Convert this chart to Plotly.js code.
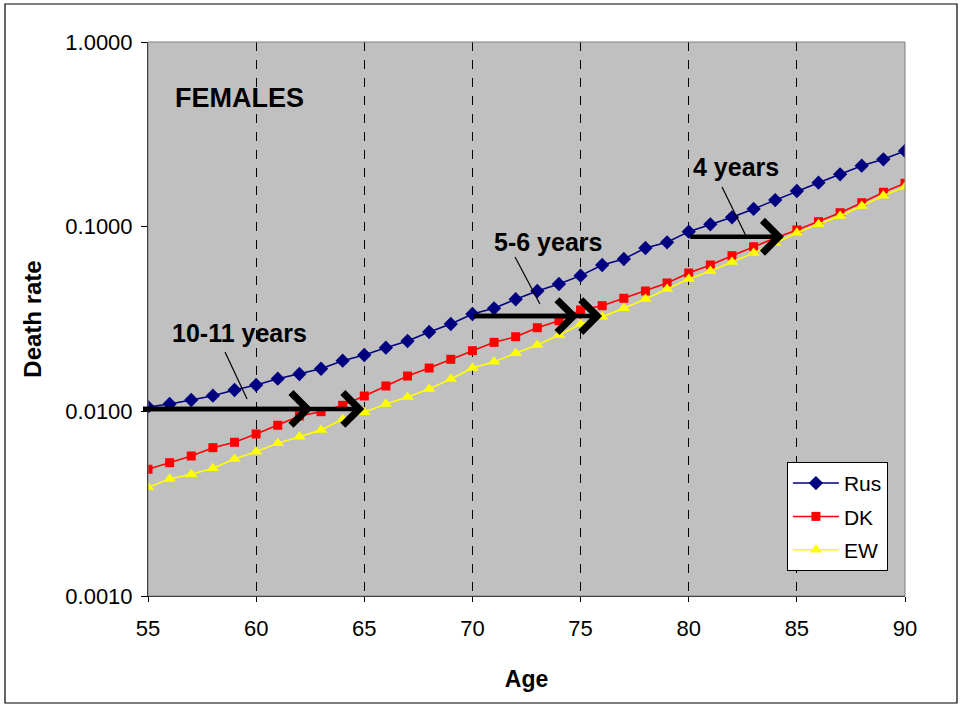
<!DOCTYPE html>
<html>
<head>
<meta charset="utf-8">
<script src="https://cdn.plot.ly/plotly-3.0.1.min.js"></script>
<style>body{margin:0;padding:0;background:#fff;}#chart{width:962px;height:707px;}</style>
</head>
<body>
<div id="chart"></div>
<script>
// Ages
var ages = [55,56,57,58,59,60,61,62,63,64,65,66,67,68,69,70,71,72,73,74,75,76,77,78,79,80,81,82,83,84,85,86,87,88,89,90];
// Death rates
var rus = [0.01056,0.01096,0.01152,0.01215,0.01305,0.01389,0.01502,0.01593,0.01701,0.01880,
           0.02019,0.02211,0.02403,0.02689,0.02972,0.03366,0.03614,0.04045,0.04484,0.04893,
           0.05427,0.06201,0.06683,0.07665,0.08230,0.09393,0.1030,0.1124,0.1247,0.1394,
           0.1560,0.1730,0.1921,0.2139,0.2316,0.2570];
var dk  = [0.004856,0.005271,0.005730,0.006356,0.006798,0.007541,0.008405,0.009436,0.009956,0.01078,
           0.01211,0.01372,0.01553,0.01716,0.01913,0.02130,0.02364,0.02535,0.02837,0.03095,
           0.03538,0.03733,0.04095,0.04484,0.04955,0.05613,0.06201,0.06964,0.07788,0.08684,
           0.09594,0.1064,0.1190,0.1348,0.1535,0.1717];
var ew  = [0.003879,0.004301,0.004561,0.004915,0.005519,0.006047,0.006712,0.007291,0.007925,0.009056,
           0.009881,0.01096,0.01196,0.01321,0.01496,0.01716,0.01857,0.02062,0.02286,0.02590,
           0.02972,0.03254,0.03614,0.04060,0.04597,0.05206,0.05754,0.06435,0.07203,0.08157,
           0.09275,0.1030,0.1142,0.1294,0.1471,0.1646];
var seriesNames = ['Rus','DK','EW'];
var yTicks = [0.001,0.01,0.1,1];
var yTickText = ['0.0010','0.0100','0.1000','1.0000'];
var xTicks = [55,60,65,70,75,80,85,90];

// Horizontal "gap" arrows: start age, end ages, level
var arrowStart = [54.7, 54.7, 70, 70, 80];
var arrowEnd   = [62.6, 65.0, 74.9, 76.0, 84.4];
var arrowLevel = [0.0103, 0.0103, 0.0328, 0.0328, 0.0882];

// Labels
var labelText = ['10-11 years','5-6 years','4 years'];
var labelAge  = [59.25, 73.49, 82.18];
var labelVal  = [0.02655, 0.0826, 0.2104];
// Pointer lines from labels to arrows
var ptrX0 = [58.56, 71.97, 81.54], ptrY0 = [0.02097, 0.0685, 0.1640];
var ptrX1 = [59.58, 73.12, 82.65], ptrY1 = [0.01166, 0.03814, 0.0890];

var FONT = 'Liberation Sans, Arial, sans-serif';

var traces = [
  {x: ages, y: rus, name: seriesNames[0], legendgroup:'a', mode:'lines+markers', type:'scatter',
   line:{color:'#000080', width:1.5}, marker:{symbol:'diamond', size:11, color:'#000080'}},
  {x: ages, y: dk, name: seriesNames[1], legendgroup:'b', mode:'lines+markers', type:'scatter',
   line:{color:'#FF0000', width:1.5}, marker:{symbol:'square', size:9, color:'#FF0000'}},
  {x: ages, y: ew, name: seriesNames[2], legendgroup:'c', mode:'lines+markers', type:'scatter',
   line:{color:'#FFFF00', width:1.5}, marker:{symbol:'triangle-up', size:11, color:'#FFFF00'}}
];

var annotations = [];
for (var i = 0; i < arrowStart.length; i++) {
  annotations.push({
    x: arrowEnd[i], y: Math.log10(arrowLevel[i]), xref:'x', yref:'y',
    ax: arrowStart[i], ay: Math.log10(arrowLevel[i]), axref:'x', ayref:'y',
    text:'', showarrow:true, arrowhead:4, arrowsize:1.4, arrowwidth:4.5, arrowcolor:'#000000', standoff:0
  });
}
for (var j = 0; j < labelText.length; j++) {
  annotations.push({
    x: labelAge[j], y: Math.log10(labelVal[j]), xref:'x', yref:'y', showarrow:false,
    xanchor:'center', yanchor:'middle',
    text:'<b>'+labelText[j]+'</b>', font:{family:FONT, size:25, color:'#000'}
  });
}
annotations.push({x:0.1215, y:0.899, xref:'paper', yref:'paper', showarrow:false,
  xanchor:'center', yanchor:'middle',
  text:'<b>FEMALES</b>', font:{family:FONT, size:27, color:'#000'}});

var shapes = [];
for (var k = 0; k < ptrX0.length; k++) {
  shapes.push({type:'line', xref:'x', yref:'y', x0:ptrX0[k], y0:ptrY0[k], x1:ptrX1[k], y1:ptrY1[k],
    line:{color:'#000', width:1.2}});
}
// plot area border
shapes.push({type:'rect', xref:'paper', yref:'paper', x0:0, y0:0, x1:1, y1:1,
  line:{color:'#808080', width:1}, layer:'above'});
// outer chart border
shapes.push({type:'rect', xref:'paper', yref:'paper', x0:(5-148)/757, x1:(957-148)/757,
  y0:(596-703)/554, y1:(596-4)/554, line:{color:'#000', width:1.2}, layer:'above'});

var layout = {
  width:962, height:707,
  margin:{l:148, r:57, t:42, b:111},
  paper_bgcolor:'#FFFFFF', plot_bgcolor:'#C0C0C0',
  font:{family:FONT, color:'#000'},
  showlegend:true,
  legend:{x:0.844, y:0.242, xanchor:'left', yanchor:'top', bgcolor:'#FFFFFF',
    bordercolor:'#000', borderwidth:1, font:{family:FONT, size:21}, tracegroupgap:3,
    itemwidth:46},
  xaxis:{range:[55,90], tickvals:xTicks, ticktext:xTicks.map(String), showgrid:true,
    gridcolor:'#000', griddash:'dash', gridwidth:1, zeroline:false,
    showline:true, linecolor:'#000', linewidth:1, ticks:'outside', ticklen:5, tickcolor:'#000',
    ticklabelstandoff:8,
    tickfont:{family:FONT, size:22}, title:{text:'<b>Age</b>', font:{family:FONT, size:23}, standoff:30}},
  yaxis:{type:'log', range:[-3,0], tickvals:yTicks, ticktext:yTickText, showgrid:false,
    zeroline:false, showline:true, linecolor:'#000', linewidth:1, ticks:'outside', ticklen:6,
    tickcolor:'#000', tickfont:{family:FONT, size:22}, ticklabelstandoff:4,
    title:{text:'<b>Death rate</b>', font:{family:FONT, size:24}, standoff:16}},
  annotations: annotations,
  shapes: shapes
};

Plotly.newPlot('chart', traces, layout, {staticPlot:true, displayModeBar:false});
</script>
</body>
</html>
